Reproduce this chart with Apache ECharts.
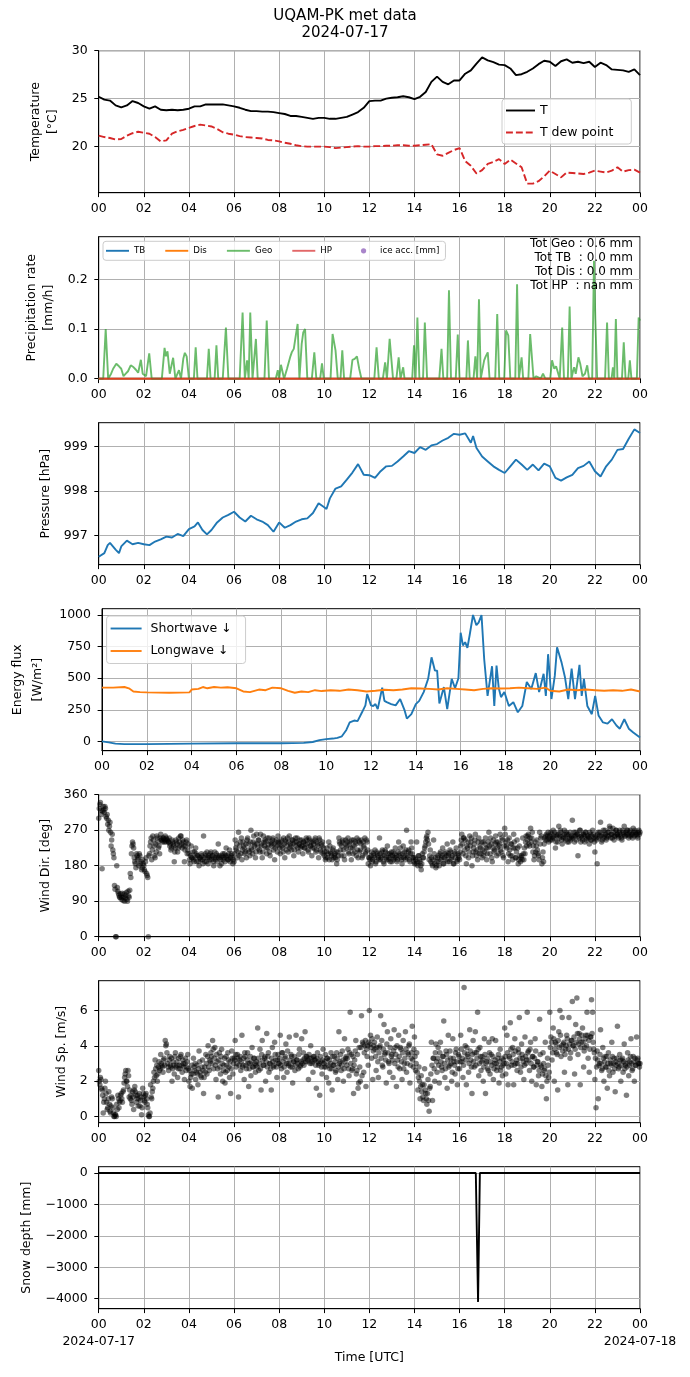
<!DOCTYPE html>
<html><head><meta charset="utf-8">
<script src="https://cdn.jsdelivr.net/npm/echarts@6/dist/echarts.min.js"></script>
<style>html,body{margin:0;padding:0;background:#fff}#c{width:690px;height:1377px}</style>
</head><body><div id="c"></div>
<script>
// ---------- DATA ----------
const hourLabels = ["00","02","04","06","08","10","12","14","16","18","20","22","00"];
const startDate = "2024-07-17", endDate = "2024-07-18";

// 15-minute samples, hours 0..24
const tempTime = Array.from({length:97},(_, i)=>i*0.25);
const tAir = [25.2,24.9,24.8,24.3, 24.1,24.3,24.75,24.55, 24.2,23.95,24.2,23.85, 23.8,23.85,23.8,23.85,
 23.95,24.2,24.2,24.4, 24.4,24.4,24.4,24.3, 24.2,24.05,23.85,23.7, 23.7,23.65,23.65,23.6,
 23.5,23.4,23.2,23.2, 23.1,23.0,22.9,23.0, 23.0,22.9,22.9,23.0, 23.1,23.35,23.6,24.05,
 24.75,24.8,24.8,25.0, 25.1,25.15,25.25,25.15, 24.95,25.2,25.7,26.75, 27.3,26.75,26.5,26.9,
 26.9,27.6,27.95,28.65, 29.3,29.0,28.8,28.55, 28.5,28.15,27.45,27.55, 27.8,28.15,28.6,28.95,
 28.85,28.4,28.9,29.1, 28.75,28.85,28.7,28.85, 28.3,28.75,28.5,28.05, 28.0,27.95,27.8,28.05, 27.45];
const tDew = [21.15,21.0,20.9,20.75, 20.8,21.15,21.4,21.55, 21.45,21.35,21.0,20.55, 20.65,21.35,21.6,21.75,
 21.95,22.15,22.3,22.2, 22.1,21.85,21.5,21.35, 21.25,21.1,21.0,20.95, 20.9,20.85,20.7,20.65,
 20.55,20.4,20.3,20.15, 20.05,20.0,20.0,20.0, 20.0,19.95,19.85,19.9, 19.95,20.0,20.05,20.0,
 20.0,20.05,20.05,20.1, 20.1,20.15,20.15,20.1, 20.1,20.15,20.2,20.25, 19.2,19.05,19.35,19.65,
 19.85,18.5,18.0,17.2, 17.55,18.2,18.4,18.7, 18.2,18.65,18.25,17.85, 16.15,16.15,16.4,16.9,
 17.5,17.15,16.8,17.3, 17.25,17.2,17.15,17.3, 17.5,17.4,17.3,17.5, 17.85,17.4,17.55,17.6, 17.3];

// precipitation rate [mm/h] : [hour, value]
const geoRate = [[0,0],[0.2,0],[0.31,0.10],[0.42,0],[0.55,0.01],[0.64,0.02],[0.78,0.03],[0.9,0.025],[1.0,0.02],[1.1,0.005],[1.2,0.01],[1.3,0.015],[1.42,0.027],[1.55,0.023],[1.65,0.018],[1.75,0.012],[1.87,0.038],[1.95,0.01],[2.1,0.005],[2.24,0.051],[2.35,0],[2.8,0],[2.92,0.062],[2.98,0.045],[3.05,0.055],[3.15,0.01],[3.3,0.042],[3.4,0],[3.56,0.017],[3.65,0],[3.75,0.04],[3.82,0.052],[3.9,0.045],[4.0,0],[4.22,0],[4.3,0.063],[4.38,0],[4.8,0],[4.88,0.06],[4.96,0],[5.14,0],[5.22,0.067],[5.3,0],[5.5,0],[5.64,0.103],[5.75,0],[6.25,0],[6.38,0.133],[6.48,0],[6.58,0.037],[6.65,0],[6.72,0.133],[6.82,0],[6.9,0],[6.97,0.08],[7.05,0],[7.35,0],[7.45,0.117],[7.55,0],[7.85,0],[7.94,0.017],[8.0,0],[8.08,0.028],[8.14,0.03],[8.22,0],[8.35,0.02],[8.43,0.023],[8.5,0.045],[8.56,0.053],[8.65,0.06],[8.75,0.09],[8.82,0.11],[8.9,0],[9.0,0.07],[9.07,0.093],[9.15,0.1],[9.25,0],[9.45,0],[9.56,0.053],[9.65,0],[9.82,0],[9.9,0.031],[9.98,0],[10.28,0],[10.37,0.09],[10.5,0.057],[10.6,0],[10.72,0],[10.8,0.057],[10.88,0],[11.15,0],[11.25,0.038],[11.35,0.04],[11.45,0.045],[11.55,0.02],[11.65,0],[12.22,0],[12.32,0.063],[12.42,0],[12.6,0],[12.7,0.033],[12.78,0],[12.9,0.08],[12.98,0.078],[13.05,0],[13.2,0],[13.3,0.043],[13.38,0],[13.45,0],[13.5,0.023],[13.56,0],[13.9,0],[13.98,0.067],[14.05,0],[14.13,0.123],[14.22,0],[14.38,0],[14.46,0.113],[14.56,0],[15.1,0],[15.2,0.06],[15.28,0],[15.45,0],[15.53,0.178],[15.62,0],[15.83,0],[15.92,0.089],[16.0,0],[16.3,0],[16.37,0.077],[16.45,0],[16.62,0],[16.7,0.045],[16.78,0],[16.86,0.16],[16.94,0],[17.02,0],[17.09,0.037],[17.16,0.045],[17.25,0.053],[17.33,0],[17.58,0],[17.67,0.13],[17.76,0],[17.98,0],[18.06,0.097],[18.16,0.087],[18.25,0],[18.47,0],[18.55,0.19],[18.63,0],[18.75,0.043],[18.82,0],[19.05,0],[19.13,0.09],[19.2,0.093],[19.28,0],[19.4,0.005],[19.6,0],[19.7,0.01],[19.8,0],[20.02,0],[20.1,0.037],[20.2,0.02],[20.28,0.025],[20.36,0.027],[20.44,0],[20.48,0],[20.55,0.103],[20.63,0],[20.8,0],[20.88,0.145],[20.96,0],[21.03,0.015],[21.08,0.023],[21.15,0.01],[21.27,0.043],[21.35,0.03],[21.45,0.005],[21.56,0.01],[21.66,0.027],[21.74,0],[21.88,0],[21.96,0.237],[22.02,0.12],[22.1,0],[22.45,0],[22.54,0.113],[22.62,0],[22.74,0],[22.8,0.023],[22.86,0],[22.93,0.12],[23.0,0],[23.2,0],[23.28,0.073],[23.36,0],[23.48,0],[23.55,0.037],[23.62,0],[23.86,0],[23.94,0.123],[24,0.117]];
const tbRate = [[0,0],[24,0]];
const disRate = [[0,0],[24,0]];
const hpRate = [[0,0],[24,0]];
const iceAcc = [];
const totLines = ["Tot Geo : 0.6 mm","Tot TB  : 0.0 mm","Tot Dis : 0.0 mm","Tot HP  : nan mm"];

// pressure [hPa] : [hour, value]
const pressure = [[0,996.52],[0.25,996.6],[0.4,996.78],[0.5,996.83],[0.75,996.68],[0.9,996.6],[1.0,996.75],[1.25,996.88],[1.5,996.8],[1.75,996.83],[2.0,996.8],[2.25,996.78],[2.5,996.86],[2.75,996.91],[3.0,996.97],[3.25,996.95],[3.5,997.03],[3.75,996.98],[4.0,997.14],[4.25,997.2],[4.4,997.29],[4.6,997.12],[4.8,997.02],[5.0,997.12],[5.25,997.29],[5.5,997.4],[5.75,997.46],[6.0,997.53],[6.25,997.4],[6.5,997.31],[6.75,997.44],[7.0,997.36],[7.25,997.31],[7.5,997.23],[7.75,997.08],[8.0,997.29],[8.25,997.17],[8.5,997.23],[8.75,997.31],[9.0,997.36],[9.25,997.38],[9.5,997.5],[9.75,997.72],[10.0,997.63],[10.1,997.59],[10.25,997.83],[10.5,998.05],[10.75,998.1],[11.0,998.25],[11.25,998.41],[11.5,998.6],[11.75,998.36],[12.0,998.35],[12.25,998.29],[12.5,998.44],[12.75,998.55],[13.0,998.56],[13.25,998.66],[13.5,998.77],[13.75,998.89],[14.0,998.85],[14.25,998.98],[14.5,998.92],[14.75,999.02],[15.0,999.05],[15.25,999.13],[15.5,999.19],[15.75,999.28],[16.0,999.26],[16.25,999.29],[16.5,999.08],[16.6,999.23],[16.75,998.96],[17.0,998.77],[17.25,998.66],[17.5,998.55],[17.75,998.47],[18.0,998.4],[18.25,998.55],[18.5,998.7],[18.75,998.59],[19.0,998.47],[19.25,998.59],[19.5,998.46],[19.75,998.61],[20.0,998.55],[20.25,998.29],[20.5,998.23],[20.75,998.3],[21.0,998.36],[21.25,998.51],[21.5,998.56],[21.75,998.66],[22.0,998.44],[22.25,998.32],[22.5,998.55],[22.75,998.7],[23.0,998.92],[23.25,998.94],[23.5,999.17],[23.75,999.38],[24.0,999.3]];

// energy flux [W/m2] : [hour, value]
const shortwave = [[0,0],[0.3,-8],[0.6,-18],[1.0,-22],[2,-22],[4,-18],[6,-15],[8,-15],[9.0,-12],[9.4,-5],[9.7,10],[10.0,18],[10.3,22],[10.5,28],[10.7,40],[10.9,90],[11.05,150],[11.25,165],[11.4,160],[11.6,230],[11.75,285],[11.83,375],[12.0,285],[12.1,280],[12.2,295],[12.3,255],[12.5,425],[12.6,320],[12.7,310],[12.9,295],[13.1,285],[13.3,335],[13.5,245],[13.6,180],[13.8,215],[14.0,295],[14.15,320],[14.35,390],[14.55,495],[14.7,665],[14.85,560],[14.95,560],[15.05,300],[15.25,430],[15.4,255],[15.6,495],[15.75,420],[15.9,500],[16.0,860],[16.1,760],[16.2,785],[16.3,740],[16.4,840],[16.55,1000],[16.7,920],[16.8,940],[16.93,1000],[17.05,650],[17.2,360],[17.4,595],[17.5,280],[17.6,600],[17.7,420],[17.8,350],[17.95,390],[18.15,280],[18.35,310],[18.55,230],[18.75,280],[18.95,470],[19.15,415],[19.35,540],[19.5,390],[19.7,535],[19.8,360],[19.9,690],[20.05,335],[20.2,520],[20.3,745],[20.5,625],[20.65,510],[20.8,335],[20.95,575],[21.1,335],[21.3,605],[21.4,360],[21.5,495],[21.65,280],[21.85,215],[22.0,360],[22.15,205],[22.35,150],[22.55,140],[22.75,175],[22.95,125],[23.1,100],[23.3,175],[23.5,100],[23.7,70],[24.0,30]];
const longwave = [[0,425],[0.5,425],[1.0,430],[1.2,420],[1.4,395],[1.7,390],[2,388],[3,385],[3.9,388],[4.0,410],[4.3,415],[4.5,430],[4.7,420],[5.0,430],[5.3,425],[5.6,428],[6.0,420],[6.3,395],[6.6,390],[7.0,410],[7.3,405],[7.6,425],[8.0,420],[8.3,400],[8.6,385],[8.9,395],[9.2,390],[9.5,405],[9.8,398],[10.2,405],[10.6,400],[11.0,410],[11.4,405],[11.8,395],[12.2,400],[12.6,408],[13.0,405],[13.4,410],[13.8,420],[14.2,418],[14.6,415],[15.0,410],[15.4,420],[15.8,415],[16.2,410],[16.6,405],[17.0,415],[17.4,420],[17.8,418],[18.2,420],[18.6,425],[19.0,420],[19.4,415],[19.8,425],[20.0,400],[20.4,395],[20.8,410],[21.2,405],[21.6,410],[22.0,405],[22.4,400],[22.8,405],[23.2,400],[23.6,410],[24.0,395]];

// wind, 3-minute samples from 00:00 (A) and from 00:01:30 (B)
const windDir = [300,335,320,172,330,315,325,300,285,270,290,230,260,210,130,0,180,115,105,100,
95,110,100,90,105,95,115,100,160,210,240,225,190,175,205,200,210,185,170,195,
180,165,200,155,0,210,240,195,255,230,200,215,250,225,210,260,245,250,240,255,
250,245,240,230,220,245,235,190,225,240,215,250,230,255,225,240,190,230,245,220,
210,185,230,200,195,215,225,190,205,180,200,210,195,255,190,205,215,185,200,210,
195,205,180,215,200,190,235,205,195,185,210,200,190,225,205,195,220,200,210,185,
190,245,220,200,265,230,210,195,240,225,215,200,250,235,205,270,220,240,230,200,
260,225,245,215,235,200,255,230,240,210,225,250,205,235,245,220,195,240,230,255,
235,210,245,225,250,200,240,230,215,255,235,220,245,205,240,230,250,215,235,225,
245,210,240,225,250,235,215,245,230,205,240,225,250,220,235,200,245,215,230,210,
205,195,215,200,240,230,210,195,225,205,200,185,215,250,235,205,240,220,195,245,
230,250,210,240,195,225,245,215,235,250,200,240,220,245,205,230,250,215,240,185,
200,180,215,195,205,220,190,210,200,250,195,215,205,185,220,200,230,195,210,205,
190,215,200,225,205,195,240,210,200,185,230,215,195,270,205,220,190,240,210,200,
185,195,240,180,205,190,170,210,200,225,240,255,265,195,220,200,180,245,185,175,
190,205,180,215,200,225,185,210,195,235,205,190,215,200,240,185,210,225,195,205,
195,230,260,210,250,245,185,225,200,255,240,180,215,235,260,205,195,250,230,210,
200,240,215,250,195,225,265,210,235,190,245,220,255,205,240,230,260,215,245,200,
275,240,225,190,250,205,235,195,260,225,200,245,185,230,190,205,250,195,210,255,
245,260,230,275,250,215,195,240,230,220,205,265,250,185,215,235,245,260,255,240,
255,265,245,270,250,225,260,240,280,255,265,235,250,270,245,260,255,240,265,250,
295,255,240,265,260,205,250,270,255,245,260,240,265,250,255,235,260,245,270,250,
215,250,185,265,255,290,240,260,250,270,245,255,265,280,250,260,275,245,255,270,
260,250,270,255,245,265,280,255,260,270,250,265,255,260,275,255,265,260,250,270,
265];
const windDirB = [325,340,310,318,322,330,305,310,295,280,265,245,220,200,120,0,125,110,100,108,
100,92,108,98,112,90,103,118,150,230,235,200,185,210,195,180,205,190,175,185,
170,190,160,150,205,230,250,220,245,205,235,255,240,230,250,245,240,250,245,240,
245,240,250,235,225,240,230,215,245,235,225,240,255,235,245,230,220,240,210,235,
195,205,200,215,190,200,210,205,190,200,195,205,185,200,210,190,200,205,195,215,
205,190,200,195,210,205,200,180,200,205,195,210,205,200,195,210,190,205,200,195,
210,225,235,215,205,240,250,220,230,210,235,245,220,215,240,225,210,255,235,215,
235,245,220,260,230,215,240,245,225,250,235,215,240,230,250,235,225,245,215,240,
225,240,230,215,235,245,220,250,240,225,230,245,235,220,250,240,225,235,245,230,
230,240,225,235,245,220,250,230,240,225,235,245,215,240,230,250,220,235,240,225,
215,200,225,210,195,215,205,220,200,210,215,195,205,240,220,230,245,205,235,225,
240,215,235,225,245,210,230,240,205,220,245,215,235,200,240,225,210,245,220,200,
195,205,190,210,200,185,215,205,195,210,200,220,190,205,215,195,210,200,190,215,
205,195,210,200,190,215,205,225,195,210,200,205,220,200,215,195,210,225,200,190,
200,185,190,205,195,180,185,200,215,230,250,245,235,205,190,185,195,210,200,180,
200,190,210,195,205,185,200,215,205,190,210,220,195,205,185,215,200,190,210,200,
215,245,235,250,220,205,230,240,215,230,250,205,225,245,215,220,240,210,225,240,
220,205,235,225,210,240,230,250,200,225,215,235,240,225,210,235,220,250,205,230,
260,230,245,210,220,235,205,225,240,200,215,225,195,205,200,195,210,225,240,230,
255,235,250,240,265,230,205,215,245,210,195,235,255,200,190,250,255,245,265,250,
245,260,250,255,265,240,255,260,250,270,245,255,260,250,265,240,260,250,245,255,
250,265,255,245,260,255,270,240,250,260,255,265,245,255,250,265,245,255,260,240,
255,245,260,250,265,255,245,270,255,260,250,265,255,275,260,250,265,255,270,260,
255,265,260,250,270,260,255,265,270,260,255,270,260,250,265,270,260,255,265,260];
const windSpeed = [2.6,1.8,2.1,1.5,0.2,1.0,2.0,0.8,0.5,1.4,0.3,0.6,1.0,0.2,0.0,0.1,0.7,1.2,0.5,0.9,
1.3,0.8,1.5,2.2,2.6,2.0,2.6,1.1,1.0,0.9,1.4,0.4,1.7,1.2,1.0,0.6,1.3,0.9,0.1,1.6,
1.1,0.8,1.3,0.7,0.1,0.0,1.8,1.0,1.6,2.5,3.2,2.3,2.0,2.8,2.6,3.5,2.9,2.5,3.3,4.3,
4.1,3.0,2.6,3.4,2.8,2.0,3.1,2.4,3.6,2.9,2.2,3.3,2.7,3.5,2.5,3.0,2.1,3.3,2.8,3.5,
2.0,1.7,2.4,1.6,3.3,2.6,2.1,2.9,1.8,3.7,2.5,2.2,3.2,1.3,2.8,3.5,2.4,4.0,2.6,3.1,
3.4,4.3,2.7,3.9,2.1,3.1,1.1,3.6,2.4,3.8,2.0,2.9,1.9,3.4,2.6,3.2,2.2,1.3,3.7,2.4,
3.3,4.3,2.8,3.5,1.1,3.2,2.6,4.6,2.9,2.1,3.4,2.7,3.6,1.7,3.0,2.3,3.9,2.8,3.3,2.5,
3.1,5.0,2.6,3.8,1.5,4.3,2.9,3.3,2.0,4.7,3.4,2.5,3.0,1.5,3.9,2.8,4.2,3.2,2.2,3.5,
3.0,4.6,2.7,3.6,2.2,3.3,4.1,2.5,3.0,4.5,2.8,3.4,1.9,3.1,2.6,4.6,3.2,2.7,3.8,2.9,
4.4,3.2,2.9,4.8,3.4,3.1,2.1,3.3,4.0,3.0,2.5,3.4,3.2,1.6,3.6,2.9,1.2,3.1,2.4,3.8,
2.8,3.5,2.2,3.3,1.9,2.7,3.6,1.5,2.9,3.4,2.5,3.6,2.1,4.8,3.1,2.6,3.7,2.0,4.4,3.3,
2.9,3.8,2.3,5.9,3.5,2.7,1.3,3.2,4.3,2.6,1.6,3.9,2.0,5.7,4.2,2.5,4.0,1.7,3.4,2.9,
6.0,4.6,3.3,2.1,4.0,3.8,2.6,4.5,2.2,3.9,5.7,4.3,2.8,5.2,3.6,1.9,4.8,3.1,2.5,4.4,
3.5,2.2,4.9,3.9,1.7,3.2,4.6,2.7,3.8,2.1,4.3,3.0,4.8,2.5,3.6,4.0,1.9,3.3,5.1,2.8,
4.5,2.6,3.6,1.5,2.8,1.0,2.3,1.8,0.9,2.7,1.3,0.7,2.1,0.3,1.7,4.2,0.9,3.3,2.0,4.1,
2.5,3.9,1.9,4.2,2.8,3.4,5.4,2.2,3.7,1.6,4.6,2.9,3.3,2.0,4.4,3.1,2.4,3.8,1.8,3.5,
2.7,4.6,3.1,2.2,7.3,4.0,1.8,3.5,2.5,4.9,3.2,1.3,4.3,2.8,4.8,3.6,5.9,2.3,3.9,2.6,
3.4,2.0,4.4,1.3,3.1,2.7,4.2,2.4,3.5,4.4,2.1,3.0,4.3,2.6,3.3,1.9,3.8,2.8,2.3,3.2,
5.0,2.4,4.6,1.8,3.4,5.3,2.9,3.9,1.8,4.4,3.0,2.6,3.8,5.6,2.5,4.1,3.3,2.1,4.5,3.0,
5.9,3.7,2.6,4.2,2.0,3.4,2.8,4.4,1.8,3.1,2.3,5.5,2.9,1.7,3.6,2.6,4.2,1.0,3.3,2.2,
5.9,4.5,3.2,5.0,2.0,4.2,3.6,1.5,4.8,6.0,3.4,5.6,4.1,2.5,3.8,4.6,1.8,5.6,3.3,4.3,
6.5,4.0,2.4,5.2,6.7,3.5,4.7,1.8,4.2,5.0,2.8,3.9,4.6,5.9,3.3,2.5,4.5,6.6,5.9,3.8,
2.1,0.5,3.7,1.0,3.0,4.9,2.6,3.9,2.0,3.4,2.8,1.6,3.6,2.3,3.0,4.2,2.5,3.3,1.4,2.9,
5.1,2.7,3.5,2.0,3.2,2.5,4.1,2.9,1.2,3.6,2.3,3.1,4.4,2.6,3.4,2.0,2.9,4.5,3.3,3.0,
3.0];
const windSpeedB = [2.0,2.2,1.6,1.2,0.8,1.6,1.3,0.4,1.0,0.7,0.2,1.1,0.5,0.0,0.1,0.0,0.4,1.0,0.8,1.2,
1.0,1.4,1.9,2.4,2.0,1.7,2.3,1.5,1.2,0.7,1.1,1.5,1.4,0.8,1.2,1.0,0.6,1.1,0.5,1.3,
0.9,1.2,1.0,0.5,0.0,0.2,1.1,1.4,2.0,2.2,2.7,2.9,2.4,3.1,2.7,3.0,2.8,3.2,2.9,4.0,
3.6,2.8,3.2,2.9,3.3,2.7,2.9,3.4,2.8,3.1,2.7,2.9,3.4,2.9,3.2,2.8,3.0,2.6,3.1,2.7,
2.6,2.2,2.9,2.4,2.8,3.0,2.5,2.4,2.7,3.1,2.3,2.8,2.6,2.2,2.5,3.0,3.4,2.8,3.2,3.6,
3.0,3.8,3.3,2.9,3.5,2.7,3.2,2.8,3.4,3.0,2.6,3.3,2.5,2.9,3.6,2.8,3.1,2.7,3.3,3.0,
3.2,3.5,3.0,3.3,2.9,3.4,3.1,2.8,3.3,3.6,2.9,3.2,3.0,2.7,3.4,3.1,2.8,3.3,3.0,2.9,
2.8,3.3,3.0,2.7,3.5,3.2,2.9,3.4,3.1,2.8,3.6,3.0,2.7,3.3,3.1,2.9,3.5,2.8,3.2,3.0,
3.3,2.9,3.6,3.1,2.8,3.4,3.0,3.7,2.9,3.2,3.5,2.8,3.1,3.4,2.9,3.2,3.0,3.5,2.8,3.1,
3.0,3.6,3.3,3.1,3.4,3.2,3.5,3.0,3.3,3.1,3.4,3.2,2.9,3.3,3.1,3.0,3.4,2.8,3.2,3.0,
3.1,2.8,3.3,2.9,3.2,3.0,2.7,3.4,2.9,3.1,2.6,3.3,2.8,3.0,3.5,2.9,3.2,2.7,3.1,3.4,
3.3,2.7,3.6,3.0,2.6,3.4,2.9,3.7,2.4,3.5,1.9,2.8,3.9,2.3,4.1,3.6,4.3,3.8,4.0,4.2,
4.1,3.9,4.4,3.7,4.2,3.4,3.9,3.1,3.6,4.0,3.3,2.9,3.8,3.5,3.2,4.1,3.6,3.0,3.9,3.4,
3.2,3.7,3.0,3.5,4.0,2.8,3.4,3.9,3.1,3.6,2.7,3.3,3.8,3.0,3.5,4.1,2.9,3.6,3.2,3.8,
3.4,3.0,2.5,2.2,2.0,1.7,1.4,1.1,1.8,1.5,1.0,1.3,0.9,1.6,2.4,2.9,3.3,2.7,3.6,3.1,
3.3,2.9,3.6,3.1,2.6,3.4,3.0,2.7,3.5,3.2,2.8,3.7,3.0,2.5,3.3,2.9,3.6,3.1,2.7,3.4,
3.1,3.8,3.3,2.9,3.6,3.2,3.9,3.4,3.0,3.7,2.8,3.5,3.1,3.6,2.9,3.3,3.8,3.0,3.4,3.1,
3.2,2.8,3.5,3.0,3.3,2.6,3.6,3.1,2.9,3.4,2.7,3.2,3.0,2.8,3.5,3.1,2.6,3.3,2.9,3.0,
3.4,3.0,3.6,2.8,3.3,3.8,3.1,3.5,2.9,3.7,3.2,3.0,3.6,3.3,2.8,3.5,3.1,2.9,3.4,3.2,
3.6,3.2,3.8,3.0,3.4,2.8,3.3,3.7,2.9,3.1,2.6,3.5,2.8,2.4,3.0,2.7,2.3,2.0,2.9,2.5,
3.9,4.2,3.6,4.4,3.8,4.1,3.5,4.3,3.9,4.6,4.0,3.7,4.2,3.5,4.0,4.4,3.8,4.1,3.6,4.3,
4.0,4.5,3.8,4.2,4.7,4.1,4.4,3.9,4.6,4.2,3.7,4.4,4.0,4.6,4.3,3.8,4.5,4.7,4.2,3.6,
3.3,2.8,3.2,2.9,3.5,3.0,2.7,3.3,3.1,2.8,3.4,3.0,2.6,3.2,2.9,3.4,3.0,2.7,3.1,3.3,
3.0,2.8,3.2,2.9,3.3,3.1,2.7,3.0,2.8,3.2,2.9,3.4,3.0,2.7,3.1,3.3,2.9,3.2,3.0,2.8];
const windTime = windDir.map((_, i) => i * 0.05);
const windTimeB = windDirB.map((_, i) => i * 0.05 + 0.025);

// snow depth [mm] : [hour, value]
const snowDepth = [[0,0],[16.72,0],[16.82,-4100],[16.9,0],[24,0]];

// tick values
const tempTicks = [20,25,30];
const precipTicks = [0,0.1,0.2];
const pressTicks = [997,998,999];
const fluxTicks = [0,250,500,750,1000];
const dirTicks = [0,90,180,270,360];
const speedTicks = [0,2,4,6];
const snowTicks = [-4000,-3000,-2000,-1000,0];

// ---------- CHART ----------
const F = 'DejaVu Sans';
const FS = 12.5;
const tops = [50.7, 236.7, 422.7, 608.7, 794.7, 980.7, 1166.7];
const zip = (t, v) => t.map((x, i) => [x, v[i]]);

const grids = tops.map(t => ({left: 98.7, top: t, width: 541.3, height: 142, show: true,
  borderColor: '#000', borderWidth: 1, backgroundColor: 'rgba(0,0,0,0)'}));

const xAxes = tops.map((t, i) => ({
  type: 'value', gridIndex: i, min: 0, max: 24, interval: 2,
  name: i === 6 ? 'Time [UTC]' : '', nameLocation: 'middle', nameGap: 42,
  nameTextStyle: {fontFamily: F, fontSize: FS, color: '#000'},
  axisLine: {show: true, onZero: false, lineStyle: {color: '#000', width: 1}},
  axisTick: {show: true, length: 4.4, lineStyle: {color: '#000', width: 1}},
  splitLine: {show: true, lineStyle: {color: '#b0b0b0', width: 1}},
  axisLabel: {color: '#000', fontFamily: F, fontSize: FS, margin: 8, lineHeight: 17,
    showMinLabel: true, showMaxLabel: true, hideOverlap: false,
    formatter: v => {
      const s = hourLabels[Math.round(v / 2)];
      if (i === 6 && v === 0) return s + '\n' + startDate;
      if (i === 6 && v === 24) return s + '\n' + endDate;
      return s;
    }}
}));

function yAx(i, min, max, ticks, name, gap, lh, fmt) {
  return {type: 'value', gridIndex: i, min: min, max: max, name: name, nameLocation: 'middle',
    nameGap: gap, nameRotate: 90,
    nameTextStyle: {fontFamily: F, fontSize: FS, color: '#000', lineHeight: lh},
    axisLine: {show: true, lineStyle: {color: '#000', width: 1}},
    axisTick: {show: true, length: 4.4, customValues: ticks, lineStyle: {color: '#000', width: 1}},
    axisLabel: {customValues: ticks, color: '#000', fontFamily: F, fontSize: FS, margin: 11,
      formatter: fmt || (v => String(v))},
    splitLine: {show: true, lineStyle: {color: '#b0b0b0', width: 1}}};
}
const minus = v => v < 0 ? '\u2212' + (-v) : String(v);
const yAxes = [
  yAx(0, 15.2, 30, tempTicks, 'Temperature\n[°C]', 28, 17),
  yAx(1, 0, 0.2856, precipTicks, 'Precipitation rate\n[mm/h]', 33, 17, v => v.toFixed(1)),
  yAx(2, 996.34, 999.53, pressTicks, 'Pressure [hPa]', 40, 15),
  yAx(3, -74, 1050, fluxTicks, 'Energy flux\n[W/m²]', 54, 20),
  yAx(4, 0, 360, dirTicks, 'Wind Dir. [deg]', 39.5, 15),
  yAx(5, -0.35, 7.68, speedTicks, 'Wind Sp. [m/s]', 23.5, 15),
  yAx(6, -4317, 200, snowTicks, 'Snow depth [mm]', 62.5, 15, minus)
];

const line = (name, gi, data, color, width, extra) => Object.assign({
  name: name, type: 'line', xAxisIndex: gi, yAxisIndex: gi, data: data, symbol: 'none',
  showSymbol: false, animation: false, clip: true,
  lineStyle: {color: color, width: width}, itemStyle: {color: color}
}, extra || {});

const series = [
  line('T', 0, zip(tempTime, tAir), '#000000', 1.9),
  line('T dew point', 0, zip(tempTime, tDew), '#d62728', 1.9,
    {lineStyle: {color: '#d62728', width: 1.9, type: [6.9, 3]}}),
  line('TB', 1, tbRate, '#1f77b4', 1.9),
  line('Dis', 1, disRate, '#ff7f0e', 1.9),
  line('Geo', 1, geoRate, '#2ca02c', 1.9, {lineStyle: {color: '#2ca02c', width: 1.9, opacity: 0.7}}),
  line('HP', 1, hpRate, '#d62728', 1.9, {lineStyle: {color: '#d62728', width: 1.9, opacity: 0.7}}),
  {name: 'ice acc. [mm]', type: 'scatter', xAxisIndex: 1, yAxisIndex: 1, data: iceAcc,
    itemStyle: {color: '#9467bd'}, symbolSize: 5},
  line('Pressure', 2, pressure, '#1f77b4', 1.9),
  line('Shortwave ↓', 3, shortwave, '#1f77b4', 1.9),
  line('Longwave ↓', 3, longwave, '#ff7f0e', 1.9),
  {name: 'Wind Dir.', type: 'scatter', xAxisIndex: 4, yAxisIndex: 4,
    data: zip(windTime, windDir).concat(zip(windTimeB, windDirB)),
    symbolSize: 5.5, itemStyle: {color: '#000', opacity: 0.5}, animation: false},
  {name: 'Wind Sp.', type: 'scatter', xAxisIndex: 5, yAxisIndex: 5,
    data: zip(windTime, windSpeed).concat(zip(windTimeB, windSpeedB)),
    symbolSize: 5.5, itemStyle: {color: '#000', opacity: 0.5}, animation: false},
  line('Snow depth', 6, snowDepth, '#000000', 1.9)
];

// legend icons (full-box paths so they are not stretched)
const lineIcon = (w, h, lw) => `path://M0,0M${w},${h}M0,${(h-lw)/2}H${w}V${(h+lw)/2}H0Z`;
const dashIcon = (w, h, lw, d, g) => {
  let s = `path://M0,0M${w},${h}`;
  for (let x = 0; x < w; x += d + g) {
    const e = Math.min(x + d, w);
    s += `M${x},${(h-lw)/2}H${e}V${(h+lw)/2}H${x}Z`;
  }
  return s;
};
const dotIcon = (w, h, r) => `path://M0,0M${w},${h}M${w/2-r},${h/2}A${r},${r},0,1,0,${w/2+r},${h/2}A${r},${r},0,1,0,${w/2-r},${h/2}Z`;

const legBox = {backgroundColor: 'rgba(255,255,255,0.8)', borderColor: '#cccccc', borderWidth: 1,
  borderRadius: 3, selectedMode: false};
const legend = [
  Object.assign({data: [{name: 'T', icon: lineIcon(29, 12, 1.9)},
      {name: 'T dew point', icon: dashIcon(29, 12, 1.9, 6.9, 3)}],
    orient: 'vertical', left: 502, top: 99,
    itemWidth: 29, itemHeight: 12, itemGap: 9, padding: [5, 18, 5, 4],
    textStyle: {fontFamily: F, fontSize: FS, color: '#000'}}, legBox),
  Object.assign({data: [{name: 'TB', icon: lineIcon(23, 7, 1.9)}, {name: 'Dis', icon: lineIcon(23, 7, 1.9)},
      {name: 'Geo', icon: lineIcon(23, 7, 1.9), itemStyle: {opacity: 0.7}},
      {name: 'HP', icon: lineIcon(23, 7, 1.9), itemStyle: {opacity: 0.7}},
      {name: 'ice acc. [mm]', icon: dotIcon(23, 7, 2.6)}],
    orient: 'horizontal', left: 103, top: 241.3,
    itemWidth: 23, itemHeight: 7, itemGap: 20, padding: [5, 6, 5, 3],
    textStyle: {fontFamily: F, fontSize: 8.7, color: '#000'}}, legBox),
  Object.assign({data: [{name: 'Shortwave ↓', icon: lineIcon(31, 12, 1.9)},
      {name: 'Longwave ↓', icon: lineIcon(31, 12, 1.9)}],
    orient: 'vertical', left: 106.6, top: 616,
    itemWidth: 31, itemHeight: 12, itemGap: 9.5, padding: [6, 14, 6, 4],
    textStyle: {fontFamily: F, fontSize: FS, color: '#000', padding: [0, 0, 0, 4]}}, legBox)
];

const chart = echarts.init(document.getElementById('c'), null, {renderer: 'canvas'});
chart.setOption({
  animation: false,
  backgroundColor: '#ffffff',
  title: {text: 'UQAM-PK met data\n2024-07-17', left: 'center', top: 7.5, padding: 0,
    textStyle: {fontFamily: F, fontSize: 15, fontWeight: 'normal', color: '#000', lineHeight: 17}},
  grid: grids, xAxis: xAxes, yAxis: yAxes, series: series, legend: legend,
  graphic: [{type: 'text', x: 633, y: 237, z: 100,
    style: {text: totLines.join('\n'), align: 'right', verticalAlign: 'top',
      font: '12px "DejaVu Sans"', lineHeight: 14.1, fill: '#000'}}]
});
</script></body></html>
